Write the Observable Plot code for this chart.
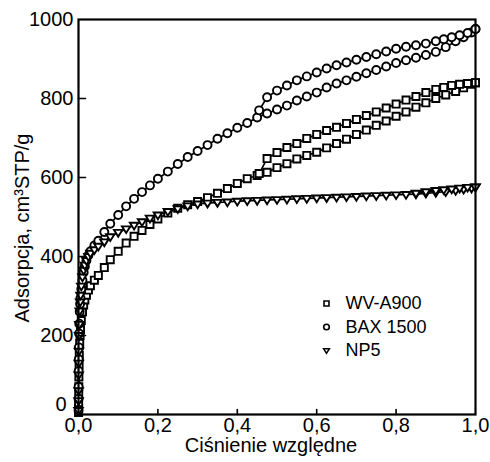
<!DOCTYPE html>
<html><head><meta charset="utf-8">
<script src="https://cdn.jsdelivr.net/npm/d3@7"></script>
<script src="https://cdn.jsdelivr.net/npm/@observablehq/plot@0.6"></script>
<style>body{margin:0;background:#fff;} #chart svg{display:block;}</style>
</head><body><div id="chart"></div>
<script>
// relative pressure, adsorption branch
const pAds = [0.0001, 0.0002, 0.0003, 0.0005, 0.0007, 0.001, 0.0015, 0.002, 0.003, 0.004, 0.005, 0.007, 0.01, 0.013, 0.016, 0.02, 0.025, 0.03, 0.04, 0.05,
  0.065, 0.08, 0.1, 0.12, 0.14, 0.16, 0.18, 0.2,
  0.225, 0.25, 0.275, 0.3, 0.325, 0.35, 0.375, 0.4, 0.425, 0.45,
  0.475, 0.5, 0.525, 0.55, 0.575, 0.6, 0.625, 0.65, 0.675, 0.7,
  0.725, 0.75, 0.775, 0.8, 0.825, 0.85, 0.875, 0.9, 0.925, 0.95,
  0.97, 0.99, 1.0];
const wvAds = [5, 15, 30, 50, 70, 95, 125, 150, 180, 200, 215, 238, 260, 277, 290, 302, 315, 326, 340, 352,
  372, 392, 413, 434, 451, 466, 481, 495,
  510, 522, 531, 539, 549, 560, 572, 585, 597, 605,
  613, 625, 635, 647, 656, 664, 675, 686, 697, 709,
  720, 732, 743, 755, 766, 778, 789, 800, 809, 818,
  827, 836, 840];
const baxAds = [10, 40, 70, 110, 140, 170, 205, 230, 260, 280, 295, 318, 340, 360, 375, 390, 403, 413, 428, 440,
  462, 483, 505, 527, 546, 563, 580, 597,
  615, 634, 652, 667, 682, 698, 712, 726, 738, 752,
  762, 772, 782, 795, 805, 815, 828, 838, 846, 855,
  864, 872, 881, 890, 897, 903, 910, 918, 930, 945,
  955, 967, 976];
const npAds = [10, 35, 60, 100, 130, 160, 200, 228, 262, 285, 302, 325, 348, 365, 378, 390, 400, 408, 417, 426,
  437, 450, 461, 470, 479, 488, 497, 505,
  514, 521, 528, 533, 535, 537, 538, 540, 541, 542,
  543, 544, 545, 546, 547, 548, 549, 550, 551, 552,
  553, 554, 555, 556, 557, 558, 560, 562, 564, 567,
  570, 573, 576];
// desorption branch
const pDes = [1.0, 0.98, 0.96, 0.94, 0.92, 0.9, 0.875, 0.85, 0.825, 0.8, 0.775, 0.75, 0.725, 0.7, 0.675, 0.65, 0.625, 0.6, 0.575, 0.55, 0.525, 0.5, 0.475, 0.455];
const wvDes = [840, 838, 836, 833, 828, 823, 815, 805, 796, 786, 776, 766, 757, 747, 737, 727, 719, 709, 699, 686, 676, 663, 648, 610];
const baxDes = [976, 966, 960, 955, 950, 945, 939, 935, 931, 926, 919, 912, 905, 898, 891, 884, 876, 866, 856, 846, 833, 820, 803, 770];
const pDesNp = [1.0, 0.98, 0.96, 0.94, 0.92, 0.9, 0.875, 0.85];
const npDes = [576, 575, 573, 571, 569, 567, 564, 560];

const seriesNames = ["WV-A900", "BAX 1500", "NP5"];
const xTicks = [0, 0.2, 0.4, 0.6, 0.8, 1.0];
const yTicks = [0, 200, 400, 600, 800, 1000];
const xLabel = "Ciśnienie względne";
const yLabel = "Adsorpcja, cm³STP/g";

const rows = (p, v) => p.map((x, i) => ({x, y: v[i]}));
const triDown = {draw(ctx, size) {
  const r = Math.sqrt(size / Math.PI);
  ctx.moveTo(-r, -r * 0.6); ctx.lineTo(r, -r * 0.6); ctx.lineTo(0, r); ctx.closePath();
}};
const tickShape = {draw(ctx, l) { ctx.moveTo(0, 0); ctx.lineTo(0, -l); }};

const sets = [
  {name: seriesNames[0], symbol: "square", r: 4, branches: [rows(pAds, wvAds), rows(pDes, wvDes)]},
  {name: seriesNames[1], symbol: "circle", r: 4, branches: [rows(pAds, baxAds), rows(pDes, baxDes)]},
  {name: seriesNames[2], symbol: triDown, r: 4.2, branches: [rows(pAds, npAds), rows(pDesNp, npDes)]}
];

const marks = [];
for (const s of sets) for (const b of s.branches)
  marks.push(Plot.line(b, {x: "x", y: "y", stroke: "black", strokeWidth: 1.7}));
for (const s of sets) for (const b of s.branches)
  marks.push(Plot.dot(b, {x: "x", y: "y", symbol: s.symbol, r: s.r, stroke: "black", strokeWidth: 1.9, fill: "white"}));

// legend
sets.forEach((s, i) => {
  marks.push(Plot.dot([s.name], {frameAnchor: "top-left", dx: 248, dy: 284 + i * 23.5, symbol: s.symbol, r: 2.8, stroke: "black", strokeWidth: 1.6, fill: "white"}));
  marks.push(Plot.text([s.name], {frameAnchor: "top-left", dx: 267, dy: 284 + i * 23.5, text: d => d, textAnchor: "start", lineAnchor: "middle", fontSize: 18, fill: "black"}));
});

const fmtX = d => d.toFixed(1).replace(".", ",");

const chart = Plot.plot({
  width: 490, height: 462,
  marginLeft: 78, marginRight: 15, marginTop: 19, marginBottom: 48,
  style: {fontFamily: "'Liberation Sans', Arial, sans-serif", color: "black", background: "white"},
  x: {domain: [0, 1]},
  y: {domain: [0, 1000]},
  marks: [
    ...marks,
    Plot.frame({stroke: "black", strokeWidth: 2.2}),
    Plot.axisX({ticks: xTicks, tickSize: 0, tickPadding: 3, fontSize: 20, label: null, tickFormat: fmtX}),
    Plot.axisY({ticks: yTicks.slice(1), tickSize: 0, tickPadding: 5, fontSize: 20, label: null, tickFormat: d => String(d)}),
    Plot.axisY({ticks: yTicks.slice(0, 1), tickSize: 0, tickPadding: 12, dy: -10, fontSize: 20, label: null, tickFormat: d => String(d)}),
    Plot.vector(xTicks.slice(1, -1), {x: d => d, y: 0, length: 5, rotate: 0, anchor: "start", shape: tickShape, stroke: "black", strokeWidth: 1.6}),
    Plot.vector(yTicks.slice(1, -1), {x: 0, y: d => d, length: 7, rotate: 90, anchor: "start", shape: tickShape, stroke: "black", strokeWidth: 1.6}),
    Plot.text([xLabel], {frameAnchor: "bottom", dx: -6, dy: 31, text: d => d, textAnchor: "middle", lineAnchor: "middle", fontSize: 20, fill: "black"}),
    Plot.text([yLabel], {frameAnchor: "left", dx: -56, dy: 11, rotate: -90, text: d => d, textAnchor: "middle", lineAnchor: "middle", fontSize: 20, fill: "black"})
  ]
});
document.getElementById("chart").appendChild(chart);
</script>
</body></html>
